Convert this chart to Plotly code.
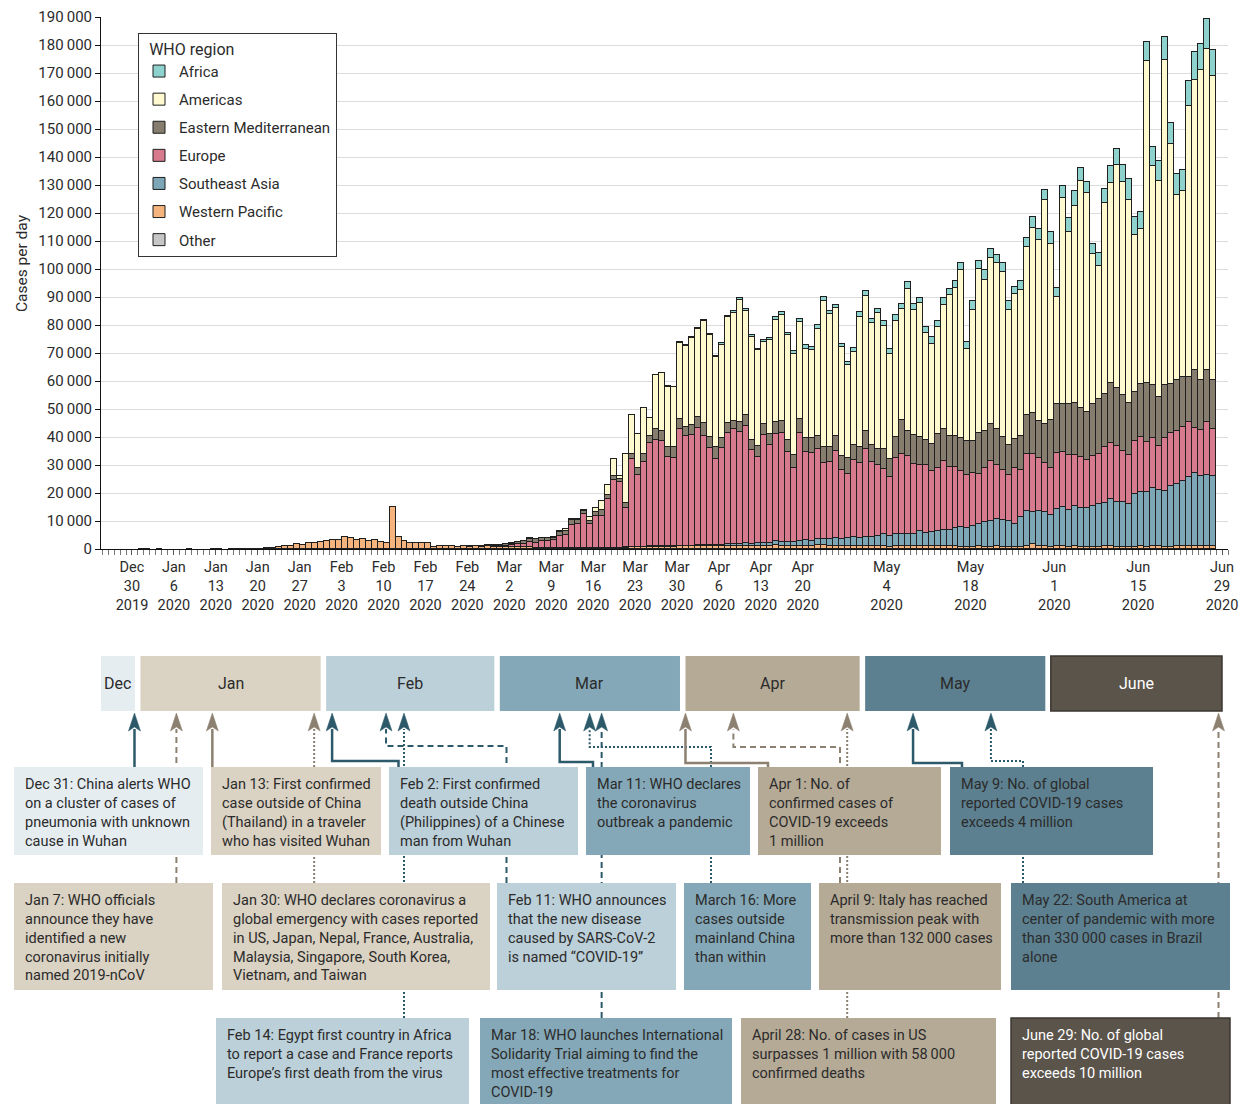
import pandas as pd
import plotly.graph_objects as go

W, H = 1248, 1104
FONT = "Roboto, 'Liberation Sans', sans-serif"
TXT = "#2b2b2b"

# ---------------- data (daily new cases, thousands) ----------------
START = "2019-12-30"
N_DAYS = 181

western_pacific = [0, 0.03, 0.06, 0, 0.06, 0, 0, 0, 0, 0.05, 0, 0, 0, 0.05, 0.04, 0, 0.03, 0.05, 0.04, 0.08, 0.1,
    0.15, 0.3, 0.45, 0.7, 1.0, 1.1, 1.9, 1.55, 2.0, 2.15, 2.4, 2.85, 3.1, 3.35, 4.3, 3.8, 3.35, 3.45, 2.75, 3.1,
    2.6, 2.0, 15.1, 4.3, 2.75, 2.25, 2.25, 1.9, 1.9, 0.6, 1.05, 1.05, 1.05, 0.6, 0.95, 0.8,
    0.9, 0.7, 0.9, 0.6, 0.7, 0.7, 0.8, 0.8, 0.6, 0.6, 0.5, 0.4, 0.4, 0.3, 0.3, 0.3, 0.4, 0.4, 0.4, 0.4, 0.4,
    0.4, 0.4, 0.4, 0.4, 0.5, 0.6, 0.6, 0.7, 0.8, 0.8, 0.8, 0.8, 0.8, 1.0, 1.0, 1.0, 1.0, 1.0, 1.0, 1.0,
    1.1, 1.2, 1.1, 1.1, 1.2, 1.0, 1.1, 1.2, 1.1, 1.5, 1.2, 1.1, 1.0, 1.1, 1.2, 1.1, 1.6, 1.3, 1.1, 1.2,
    1.0, 1.1, 1.2, 0.9, 1.0, 0.9, 0.9, 1.0, 0.8, 0.9, 1.0, 0.9, 0.9, 1.0, 0.9, 0.9, 1.0, 0.9, 0.9, 1.0,
    0.8, 0.7, 0.8, 0.9, 0.8, 0.8, 0.9, 0.8, 0.8, 0.7, 0.8, 1.1, 1.8, 1.0, 0.9, 0.8, 0.9, 1.0, 0.8, 0.9,
    0.8, 0.8, 0.7, 0.8, 0.9, 1.0, 0.8, 0.7, 0.8, 0.8, 0.9, 0.8, 0.9, 1.0, 0.8, 0.8, 0.9, 1.0, 0.9, 1.2,
    0.9, 1.0, 0.9]

southeast_asia = [0] * 79 + [
    0.05, 0.1, 0.1, 0.1, 0.1, 0.1, 0.1, 0.1, 0.1, 0.1, 0.1, 0.1, 0.2, 0.2, 0.2, 0.4, 0.3, 0.3, 0.3,
    0.5, 0.6, 0.6, 0.7, 0.8, 0.9, 1.0, 1.1, 1.2, 1.3, 1.4, 1.5, 1.6, 1.8, 2.0, 1.8, 2.1, 2.3, 2.5, 2.6,
    2.6, 2.7, 3.0, 3.2, 3.4, 3.5, 3.7, 4.2, 3.9, 4.4, 4.5, 4.6, 4.5, 5.6, 4.8, 5.0, 5.4, 5.8, 6.0, 6.5,
    7.1, 6.9, 7.4, 8.0, 8.7, 9.2, 9.8, 9.5, 9.2, 8.3, 10.7, 12.5, 11.3, 12.7, 12.3, 11.5, 13.3, 13.9, 13.3,
    14.3, 13.9, 14.0, 14.5, 15.2, 15.7, 16.9, 16.1, 16.1, 15.2, 18.7, 19.6, 19.4, 20.8, 19.9, 20.0, 21.7,
    22.4, 23.2, 24.8, 25.8, 25.3, 25.6, 25.0]

europe = [0] * 56 + [
    0.05, 0.1, 0.2, 0.3, 0.4, 0.5, 0.5, 0.6, 0.9, 1.2, 1.9, 1.8, 2.3, 2.4, 2.8, 4.4, 4.7, 8.2, 8.4, 12.0,
    8.4, 11.4, 11.4, 17.5, 24.1, 23.3, 13.9, 31.4, 25.7, 30.4, 36.8, 38.2, 37.8, 32.1, 31.7, 41.5, 39.3,
    39.5, 41.9, 39.0, 34.6, 31.0,
    34.6, 39.6, 41.0, 40.1, 42.1, 33.3, 30.9, 38.3, 34.8, 38.1, 39.0, 32.1, 26.5, 38.4, 31.6, 31.5, 31.9,
    27.2, 27.3, 31.3, 24.5, 22.9, 27.7, 26.7, 31.3, 26.8, 25.4, 23.3, 21.0, 27.1, 28.5, 27.8, 24.9, 23.5,
    24.3, 21.9, 22.5, 24.8, 22.5, 21.9,
    19.9, 18.9, 19.0, 17.9, 19.6, 21.4, 19.4, 17.9, 16.4, 19.9, 16.7, 20.5, 20.8, 18.8, 17.5, 16.8, 20.2,
    19.6, 19.6, 18.4, 18.2, 17.1, 17.9, 18.1, 19.8, 20.0, 19.9, 18.2, 17.4, 19.2, 19.6, 18.0, 17.9, 15.8,
    19.0, 18.8, 18.7, 19.4, 19.6, 16.1, 16.4, 18.8, 16.9]

eastern_mediterranean = [0] * 56 + [
    0.1, 0.1, 0.2, 0.3, 0.4, 0.4, 0.5, 0.5, 0.7, 0.9, 1.1, 1.1, 1.1, 1.1, 1.0, 1.3, 1.4, 1.6, 1.4, 1.3,
    1.2, 1.3, 2.1, 1.3, 1.6, 1.2, 1.8, 1.7, 2.4, 2.7, 2.6, 3.6, 3.5, 3.6, 3.9, 3.9, 3.2, 3.6, 3.8, 4.6,
    4.1, 4.3,
    3.5, 3.6, 3.1, 3.6, 3.6, 3.9, 3.8, 4.0, 3.8, 4.4, 4.2, 4.2, 4.6, 5.0, 4.8, 5.1, 4.8, 5.7, 5.4, 5.3,
    5.1, 5.7, 5.3, 5.7, 6.3, 5.9, 5.6, 7.2, 6.6, 7.7, 12.2, 8.8, 10.4, 9.9, 8.9, 9.7, 12.1, 11.2, 10.9, 10.8,
    12.0, 12.0, 11.4, 14.6, 13.1, 13.2, 12.7, 11.9, 10.9, 10.5, 12.1, 13.8, 14.6, 13.3, 13.9, 16.9, 17.4,
    17.4, 18.0, 18.4, 17.6, 17.0, 18.8, 19.3, 19.0, 21.4, 20.6, 19.9, 18.6, 17.3, 18.8, 21.2, 18.9, 17.6,
    18.7, 17.6, 18.4, 17.9, 16.3, 20.9, 17.9, 18.7, 17.6]

americas = [0] * 62 + [
    0.1, 0.1, 0.1, 0.15, 0.2, 0.15, 0.2, 0.2, 0.3, 0.5, 0.6, 0.5, 0.5, 0.3, 1.5, 1.65, 3.1, 3.7, 5.8, 1.2,
    17.7, 14.0, 12.2, 16.3, 6.4, 19.4, 20.6, 21.4, 21.3, 26.8, 28.7, 30.9, 31.5, 36.5, 36.4, 32.0,
    33.2, 37.7, 38.6, 43.3, 37.4, 36.6, 34.1, 29.3, 33.7, 36.5, 37.9, 37.4, 36.0, 34.9, 32.0, 31.7, 38.3,
    52.1, 47.5, 45.5, 38.9, 33.3, 33.2, 46.5, 48.5, 43.7, 48.8, 44.1, 37.4, 41.5, 39.4, 50.7, 44.8, 47.8,
    38.3, 35.8, 38.2, 44.4, 50.4, 53.1,
    59.9, 32.9, 46.9, 58.7, 53.8, 59.5, 59.3, 58.9, 48.2, 51.5, 52.2, 59.8, 66.0, 64.6, 79.9, 63.0, 38.3,
    73.4, 61.5, 70.4, 80.9, 78.2, 53.6, 47.7, 68.3, 71.4, 79.7, 76.1, 72.6, 56.1, 55.5, 114.9, 78.3, 77.3,
    116.1, 85.9, 66.1, 66.3, 96.7, 103.6, 110.5, 114.5, 108.5]

africa = [0] * 85 + [
    0.1, 0.1, 0.2, 0.2, 0.2, 0.2, 0.4, 0.4, 0.4, 0.5, 0.5, 0.5, 0.4,
    0.5, 0.6, 0.6, 0.7, 0.6, 0.6, 0.7, 0.8, 0.8, 0.9, 0.9, 1.0, 0.9, 1.1, 1.1, 1.0, 1.2, 1.4, 1.2, 1.3,
    1.0, 1.2, 1.3, 1.6, 1.5, 1.5, 1.4, 1.7, 1.6, 1.8, 2.0, 2.6, 2.0, 1.8, 2.2, 2.3, 2.2, 2.4, 2.3, 2.5,
    2.5, 2.4, 2.9, 2.6, 3.6, 3.0, 3.0, 3.0, 3.1, 2.7, 3.3, 3.3, 3.9, 3.8, 3.8, 4.2, 3.2, 4.2, 5.1, 5.5,
    4.8, 3.9, 3.3, 4.5, 4.8, 6.0, 5.6, 6.2, 7.7, 6.4, 5.8, 6.9, 6.7, 7.1, 8.4, 7.5, 7.4, 7.4, 8.9, 10.0,
    9.4, 10.6, 9.3]

other_dates = ["2020-02-05", "2020-02-07", "2020-02-10", "2020-02-12", "2020-02-13", "2020-02-15",
               "2020-02-16", "2020-02-17", "2020-02-18", "2020-02-19"]
other_values = [0.02, 0.04, 0.07, 0.04, 0.04, 0.07, 0.07, 0.1, 0.09, 0.08]

tick_dates = ["2019-12-30", "2020-01-06", "2020-01-13", "2020-01-20", "2020-01-27", "2020-02-03",
              "2020-02-10", "2020-02-17", "2020-02-24", "2020-03-02", "2020-03-09", "2020-03-16",
              "2020-03-23", "2020-03-30", "2020-04-06", "2020-04-13", "2020-04-20", "2020-05-04",
              "2020-05-18", "2020-06-01", "2020-06-15", "2020-06-29"]
y_ticks = list(range(0, 190001, 10000))

# ---------------- styling ----------------
COLORS = {
    "Africa": "#8ed2cd",
    "Americas": "#fff9cf",
    "Eastern Mediterranean": "#877d6e",
    "Europe": "#d77a8d",
    "Southeast Asia": "#7da6b6",
    "Western Pacific": "#f5b47d",
    "Other": "#c6c6c6",
}

dates = pd.date_range(START, periods=N_DAYS, freq="D")
bar_x = dates + pd.Timedelta(hours=12)


def cases(vals):
    return [v * 1000 if v else None for v in vals]


other_series = [0] * N_DAYS
for d, v in zip(other_dates, other_values):
    other_series[(pd.Timestamp(d) - pd.Timestamp(START)).days] = v

series = [  # bottom of stack first
    ("Other", other_series, 7),
    ("Western Pacific", western_pacific, 6),
    ("Southeast Asia", southeast_asia, 5),
    ("Europe", europe, 4),
    ("Eastern Mediterranean", eastern_mediterranean, 3),
    ("Americas", americas, 2),
    ("Africa", africa, 1),
]

fig = go.Figure()
for name, vals, rank in series:
    fig.add_trace(go.Bar(
        x=bar_x, y=cases(vals), name=name, legendrank=rank, legendgroup=name,
        marker=dict(color=COLORS[name], line=dict(color="#1f1f1f", width=1)),
        hovertemplate="%{x|%b %d}: %{y:,}<extra>" + name + "</extra>",
    ))

# axis geometry (pixels)
PL, PR, PT, PB = 101, 1228, 17, 549
R0 = pd.Timestamp(START) - pd.Timedelta(days=5.175)
R1 = pd.Timestamp(START) + pd.Timedelta(days=183.0)


def X(px):
    return px / W


def Y(py):
    return 1 - py / H


def date_px(d):
    t = pd.Timestamp(d)
    return PL + (t - R0) / (R1 - R0) * (PR - PL)


fig.update_layout(
    width=W, height=H, margin=dict(l=0, r=0, t=0, b=0),
    paper_bgcolor="white", plot_bgcolor="white",
    barmode="stack", bargap=0,
    font=dict(family=FONT, size=15, color=TXT),
    showlegend=True,
    legend=dict(
        x=X(138), y=Y(33), xanchor="left", yanchor="top",
        bgcolor="white", bordercolor="#333333", borderwidth=1,
        title=dict(text="\u2002WHO region", font=dict(size=16, color=TXT)),
        font=dict(size=15, color=TXT), traceorder="grouped", tracegroupgap=5.6,
    ),
    xaxis=dict(
        type="date", domain=[X(PL), X(PR)], range=[R0, R1], automargin=False,
        tickmode="array", tickvals=pd.to_datetime(tick_dates),
        ticktext=[f"{pd.Timestamp(t).strftime('%b')}<br>{pd.Timestamp(t).day}<br>{pd.Timestamp(t).year}"
                  for t in tick_dates],
        ticks="outside", ticklen=5, tickcolor="#555555", tickfont=dict(size=14.5, color=TXT),
        showline=True, linecolor="#111111", linewidth=1, showgrid=False, zeroline=False,
        minor=dict(tick0=START, dtick=86400000, ticks="outside", ticklen=5, tickcolor="#777777",
                   showgrid=False),
    ),
    yaxis=dict(
        domain=[Y(PB), Y(PT)], range=[0, 190000], automargin=False,
        tickmode="array", tickvals=y_ticks,
        ticktext=[f"{v:,}".replace(",", "\u2009") for v in y_ticks],
        ticks="outside", ticklen=5, tickcolor="#111111", tickfont=dict(size=15, color=TXT),
        showline=True, linecolor="#111111", linewidth=1,
        showgrid=True, gridcolor="#dcdcdc", gridwidth=1.3, zeroline=False,
    ),
)

annotations = [dict(text="Cases per day", x=X(22), y=Y(263), xref="paper", yref="paper",
                    xanchor="center", yanchor="middle",
                    textangle=-90, showarrow=False, font=dict(size=15.5, color=TXT))]
shapes = []

# ---------------- timeline ----------------
TEAL, TAUPE = "#2d5a6a", "#8c8171"
C_DEC, C_JAN, C_FEB, C_MAR, C_APR, C_MAY, C_JUN = (
    "#e5edf1", "#dad2c2", "#bcd0d9", "#84a8b7", "#b5aa96", "#5c8090", "#5b544b")

months = [
    ("Dec", "2019-12-25", "2019-12-31", C_DEC, TXT),
    ("Jan", "2020-01-01", "2020-01-31", C_JAN, TXT),
    ("Feb", "2020-02-01", "2020-02-29", C_FEB, TXT),
    ("Mar", "2020-03-01", "2020-03-31", C_MAR, TXT),
    ("Apr", "2020-04-01", "2020-04-30", C_APR, TXT),
    ("May", "2020-05-01", "2020-05-31", C_MAY, TXT),
    ("June", "2020-06-01", "2020-06-30", C_JUN, "white"),
]
MB_TOP, MB_BOT = 656, 711
ARROW_TIP, ARROW_BASE = 713, 729

ROW_Y = {1: (767, 855), 2: (883, 990), 3: (1018, 1110)}
DASH = {"solid": "solid", "dash": "6px,4px", "dot": "2px,2px"}

events = [
    # date, row, box x0, x1, bg, line colour, dash, elbow (src x, elbow y) or None, text, text colour
    ("2019-12-31", 1, 14, 203, C_DEC, TEAL, "solid", None,
     "Dec 31: China alerts WHO<br>on a cluster of cases of<br>pneumonia with unknown<br>cause in Wuhan", TXT),
    ("2020-01-07", 2, 14, 213, C_JAN, TAUPE, "dash", None,
     "Jan 7: WHO officials<br>announce they have<br>identified a new<br>coronavirus initially<br>named 2019-nCoV", TXT),
    ("2020-01-13", 1, 211, 381, C_JAN, TAUPE, "solid", None,
     "Jan 13: First confirmed<br>case outside of China<br>(Thailand) in a traveler<br>who has visited Wuhan", TXT),
    ("2020-01-30", 2, 222, 490, C_JAN, TAUPE, "dot", None,
     "Jan 30: WHO declares coronavirus a<br>global emergency with cases reported<br>in US, Japan, Nepal, France, Australia,<br>Malaysia, Singapore, South Korea,<br>Vietnam, and Taiwan", TXT),
    ("2020-02-02", 1, 389, 578, C_FEB, TEAL, "solid", (398.5, 761),
     "Feb 2: First confirmed<br>death outside China<br>(Philippines) of a Chinese<br>man from Wuhan", TXT),
    ("2020-02-11", 2, 497, 676, C_FEB, TEAL, "dash", (506.5, 746),
     "Feb 11: WHO announces<br>that the new disease<br>caused by SARS-CoV-2<br>is named \u201cCOVID-19\u201d", TXT),
    ("2020-02-14", 3, 216, 469, C_FEB, TEAL, "dot", None,
     "Feb 14: Egypt first country in Africa<br>to report a case and France reports<br>Europe\u2019s first death from the virus", TXT),
    ("2020-03-11", 1, 586, 750, C_MAR, TEAL, "solid", (593, 762),
     "Mar 11: WHO declares<br>the coronavirus<br>outbreak a pandemic", TXT),
    ("2020-03-16", 2, 684, 811, C_MAR, TEAL, "dot", (711, 747),
     "March 16: More<br>cases outside<br>mainland China<br>than within", TXT),
    ("2020-03-18", 3, 480, 732, C_MAR, TEAL, "dash", None,
     "Mar 18: WHO launches International<br>Solidarity Trial aiming to find the<br>most effective treatments for<br>COVID-19", TXT),
    ("2020-04-01", 1, 758, 941, C_APR, TAUPE, "solid", (768, 763),
     "Apr 1: No. of<br>confirmed cases of<br>COVID-19 exceeds<br>1 million", TXT),
    ("2020-04-09", 2, 819, 1001, C_APR, TAUPE, "dash", (840, 747),
     "April 9: Italy has reached<br>transmission peak with<br>more than 132\u2009000 cases", TXT),
    ("2020-04-28", 3, 741, 996, C_APR, TAUPE, "dot", None,
     "April 28: No. of cases in US<br>surpasses 1 million with 58\u2009000<br>confirmed deaths", TXT),
    ("2020-05-09", 1, 950, 1153, C_MAY, TEAL, "solid", (962, 763),
     "May 9: No. of global<br>reported COVID-19 cases<br>exceeds 4 million", TXT),
    ("2020-05-22", 2, 1011, 1230, C_MAY, TEAL, "dot", (1023, 761),
     "May 22: South America at<br>center of pandemic with more<br>than 330\u2009000 cases in Brazil<br>alone", TXT),
    ("2020-06-29", 3, 1011, 1230, C_JUN, TAUPE, "dash", None,
     "June 29: No. of global<br>reported COVID-19 cases<br>exceeds 10 million", "white"),
]


def pth(points):
    return "M " + " L ".join(f"{X(px):.5f},{Y(py):.5f}" for px, py in points)


def arrow_x(date):
    return max(date_px(date) - 3.5, PL + 32)


# connectors (drawn first so boxes hide them)
for date, row, x0, x1, bg, lc, dash, elbow, text, tc in events:
    ax = arrow_x(date)
    top = ROW_Y[row][0]
    if elbow:
        sx, ey = elbow
        pts = [(sx, top), (sx, ey), (ax, ey), (ax, ARROW_BASE)]
    else:
        pts = [(ax, top), (ax, ARROW_BASE)]
    lw = 2.5 if dash == "solid" else 2
    shapes.append(dict(type="path", xref="paper", yref="paper", path=pth(pts),
                       line=dict(color=lc, width=lw, dash=DASH[dash])))
    shapes.append(dict(type="path", xref="paper", yref="paper",
                       path=pth([(ax - 6, ARROW_BASE + 2), (ax, ARROW_TIP), (ax + 6, ARROW_BASE + 2),
                                 (ax, ARROW_BASE - 2)]) + " Z",
                       fillcolor=lc, line=dict(color=lc, width=0.5)))

# event boxes and texts
for date, row, x0, x1, bg, lc, dash, elbow, text, tc in events:
    y0, y1 = ROW_Y[row]
    border = dict(color="#3b3631", width=1.5) if bg == C_JUN else dict(width=0)
    shapes.append(dict(type="rect", xref="paper", yref="paper", x0=X(x0), x1=X(x1), y0=Y(y1), y1=Y(y0),
                       fillcolor=bg, line=border))
    annotations.append(dict(text=text, x=X(x0 + 9), y=Y(y0 + 7), xref="paper", yref="paper",
                            xanchor="left", yanchor="top", align="left", showarrow=False,
                            font=dict(size=14.5, color=tc, family=FONT)))

# month boxes
for label, first, last, bg, tc in months:
    x0 = max(date_px(first) - 3.5, PL)
    x1 = min(date_px(last) - 3.0, 1222)
    border = dict(color="#3b3631", width=1.5) if bg == C_JUN else dict(width=0)
    shapes.append(dict(type="rect", xref="paper", yref="paper", x0=X(x0), x1=X(x1),
                       y0=Y(MB_BOT), y1=Y(MB_TOP), fillcolor=bg, line=border))
    annotations.append(dict(text=label, x=X((x0 + x1) / 2), y=Y((MB_TOP + MB_BOT) / 2),
                            xref="paper", yref="paper", xanchor="center", yanchor="middle",
                            showarrow=False, font=dict(size=16, color=tc, family=FONT)))

fig.update_layout(shapes=shapes, annotations=annotations)
# let the figure fill the whole window (remove the page's default body margin)
fig.write_html("out.html", config={"displayModeBar": False},
               post_script="document.body.style.margin='0';document.body.style.overflow='hidden';")
